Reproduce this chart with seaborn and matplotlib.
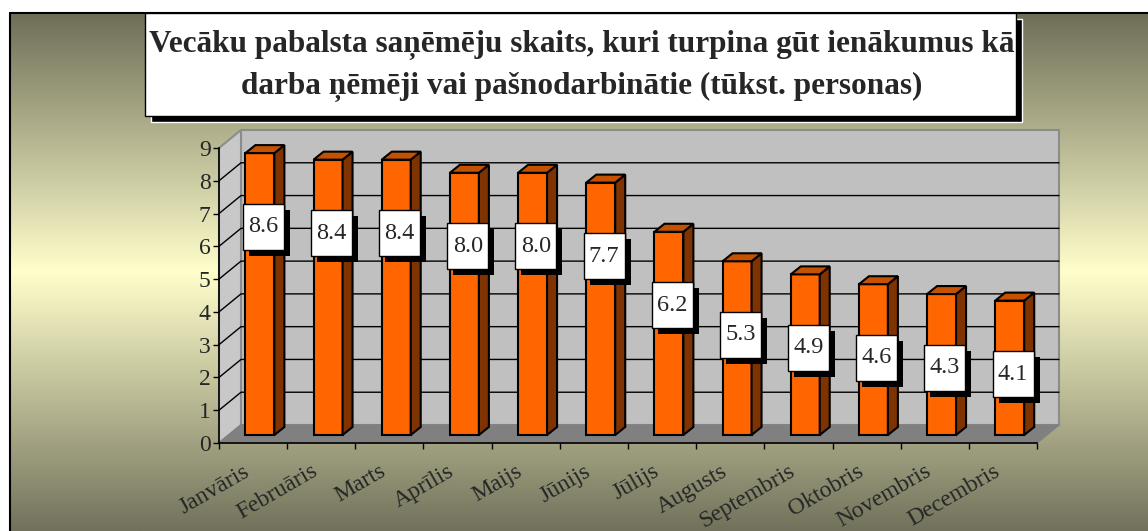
import numpy as np
import matplotlib
matplotlib.use('Agg')
import matplotlib.pyplot as plt
import seaborn as sns
from matplotlib.patches import Polygon, Rectangle
from matplotlib.colors import LinearSegmentedColormap
from matplotlib import transforms

# data
months = ['Janvāris', 'Februāris', 'Marts', 'Aprīlis', 'Maijs', 'Jūnijs',
          'Jūlijs', 'Augusts', 'Septembris', 'Oktobris', 'Novembris', 'Decembris']
recipients = [8.6, 8.4, 8.4, 8.0, 8.0, 7.7, 6.2, 5.3, 4.9, 4.6, 4.3, 4.1]
y_ticks = list(range(0, 10))
title = ('Vecāku pabalsta saņēmēju skaits, kuri turpina gūt ienākumus kā\n'
         'darba ņēmēji vai pašnodarbinātie (tūkst. personas)')

sns.set_style('white')
plt.rcParams['font.family'] = ['Liberation Serif', 'DejaVu Serif']

W, H = 1148, 531
fig = plt.figure(figsize=(W / 100, H / 100), dpi=100)
fig.patch.set_facecolor('white')

# background gradient (dark olive -> pale yellow -> dark olive)
bg = fig.add_axes([0, 0, 1, 1], zorder=0)
grad = LinearSegmentedColormap.from_list('bg', ['#6E6E58', '#FFFFCC', '#72725C'])
bg.imshow(np.linspace(0, 1, 256).reshape(-1, 1), cmap=grad, aspect='auto',
          extent=(9, W, H, 12), interpolation='bilinear')
bg.plot([9.5, 9.5], [H, 12.5], color='black', lw=1.5)
bg.plot([9.5, W], [12.5, 12.5], color='black', lw=1.5)
bg.set_xlim(0, W)
bg.set_ylim(H, 0)
bg.axis('off')

# main plot area (front plane of the 3d box)
x0, x1, yb, yt = 219, 1037, 443, 148
ax = fig.add_axes([x0 / W, (H - yb) / H, (x1 - x0) / W, (yb - yt) / H], zorder=1)
ax.patch.set_alpha(0)

sns.barplot(x=months, y=recipients, color='#FF6600', saturation=1, width=0.425,
            edgecolor='black', linewidth=1.5, ax=ax, zorder=3)
bars = list(ax.patches)

px_x = (x1 - x0) / 12
px_y = (yb - yt) / 9
DX, DY = 22 / px_x, 18 / px_y      # depth of the box
BX, BY = 0.1, 8 / px_y             # bar front face offset
SX, SY = 10 / px_x, 8 / px_y       # bar depth

# walls and floor
ax.add_patch(Polygon([(-0.5 + DX, DY), (11.5 + DX, DY), (11.5 + DX, 9 + DY), (-0.5 + DX, 9 + DY)],
                     facecolor='#C0C0C0', edgecolor='#8C8C8C', lw=1.5, clip_on=False, zorder=0.5))
ax.add_patch(Polygon([(-0.5, 0), (-0.5 + DX, DY), (-0.5 + DX, 9 + DY), (-0.5, 9)],
                     facecolor='#C8C8C8', edgecolor='#8C8C8C', lw=1.5, clip_on=False, zorder=0.5))
ax.add_patch(Polygon([(-0.5, 0), (11.5, 0), (11.5 + DX, DY), (-0.5 + DX, DY)],
                     facecolor='#808080', edgecolor='#808080', lw=1, clip_on=False, zorder=0.55))
for v in y_ticks[1:-1]:
    ax.plot([-0.5, -0.5 + DX, 11.5 + DX], [v, v + DY, v + DY], color='black', lw=1,
            clip_on=False, zorder=0.6)

# give the bars a 3d look
for p in bars:
    x = p.get_x() + BX
    w = p.get_width()
    h = p.get_height()
    p.set_x(x)
    p.set_y(BY)
    p.set_clip_on(False)
    top = BY + h
    ax.add_patch(Polygon([(x + w, BY), (x + w + SX, BY + SY), (x + w + SX, top + SY), (x + w, top)],
                         facecolor='#7F3300', edgecolor='black', lw=1.5, clip_on=False, zorder=3))
    ax.add_patch(Polygon([(x, top), (x + w, top), (x + w + SX, top + SY), (x + SX, top + SY)],
                         facecolor='#C45200', edgecolor='black', lw=1.5, clip_on=False, zorder=3))

# value labels: white box with a black drop shadow
for p, v in zip(bars, recipients):
    cx = p.get_x() + p.get_width() / 2 + 0.05
    cy = v - 2.0
    trans = fig.dpi_scale_trans + transforms.ScaledTranslation(cx, cy, ax.transData)
    ax.add_artist(Rectangle((-0.145, -0.29), 0.41, 0.46, transform=trans, facecolor='black',
                            edgecolor='none', clip_on=False, zorder=6))
    ax.add_artist(Rectangle((-0.205, -0.23), 0.41, 0.46, transform=trans, facecolor='white',
                            edgecolor='black', lw=1, clip_on=False, zorder=7))
    ax.text(cx, cy, f'{v:.1f}', ha='center', va='center', fontsize=17.5, zorder=8)

ax.set_xlim(-0.5, 11.5)
ax.set_ylim(0, 9)
ax.set_xlabel('')
ax.set_ylabel('')
ax.set_yticks(y_ticks)
ax.set_xticks(range(12))
ax.set_xticklabels(months, rotation=30, ha='right', va='top', rotation_mode='anchor', fontsize=17)
ax.set_xticks(np.arange(-0.5, 12, 1), minor=True)
ax.tick_params(axis='x', which='major', length=0, pad=10, bottom=True)
ax.tick_params(axis='x', which='minor', length=4, width=1, color='black', direction='out', bottom=True)
ax.tick_params(axis='y', length=4, width=1, color='black', pad=2, labelsize=17, direction='out', left=True)
shift = transforms.ScaledTranslation(-0.10, -0.04, fig.dpi_scale_trans)
for lbl in ax.get_xticklabels():
    lbl.set_transform(lbl.get_transform() + shift)
for s in ['top', 'right']:
    ax.spines[s].set_visible(False)
for s in ['left', 'bottom']:
    ax.spines[s].set_color('black')
    ax.spines[s].set_linewidth(1.2)

# title box with shadow
ov = fig.add_axes([0, 0, 1, 1], zorder=2)
ov.set_xlim(0, W)
ov.set_ylim(H, 0)
ov.axis('off')
ov.add_patch(Rectangle((151, 19), 871, 103, facecolor='black'))
ov.add_patch(Rectangle((145, 12.5), 871, 103, facecolor='white', edgecolor='black', lw=1))
ov.text(582, 66, title, ha='center', va='center', fontsize=22.5, fontweight='bold', linespacing=1.5)

fig.savefig('out.png', dpi=100)
